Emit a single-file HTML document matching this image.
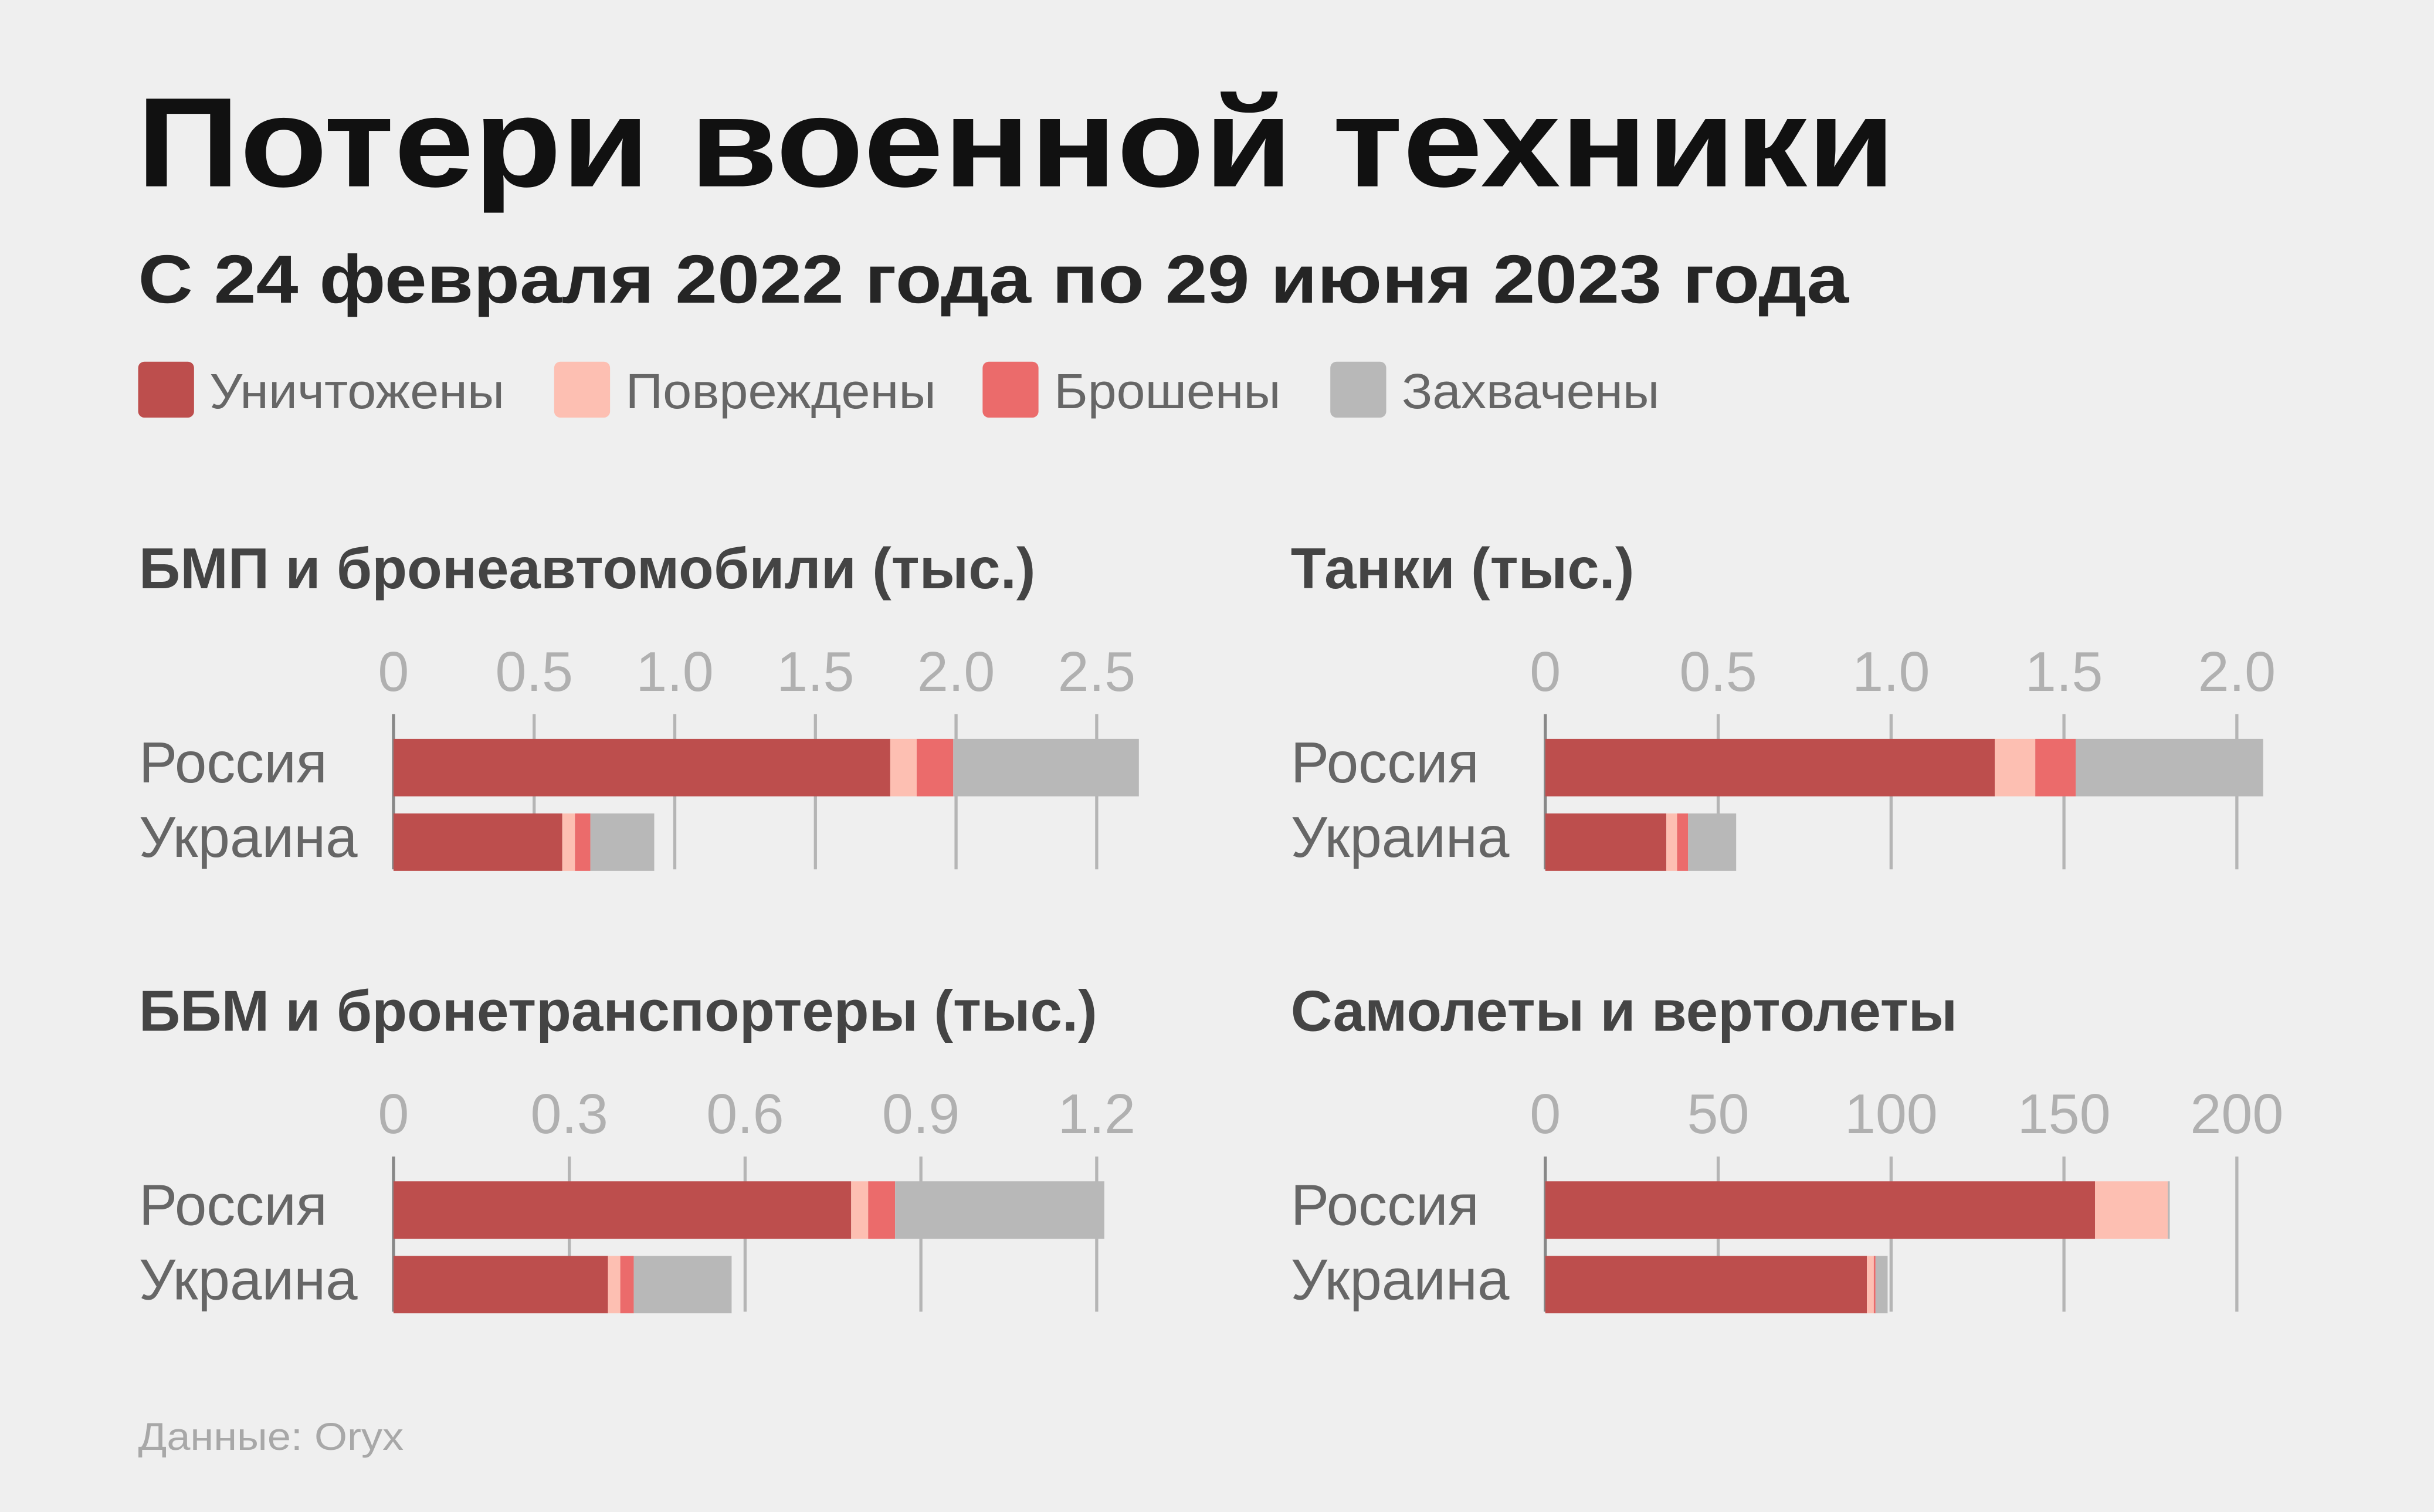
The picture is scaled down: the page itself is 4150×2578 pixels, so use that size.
<!DOCTYPE html>
<html><head><meta charset="utf-8"><style>
html,body{margin:0;padding:0;background:#efefef;}
svg{display:block;font-family:"Liberation Sans","Noto Sans CJK SC",sans-serif;}
</style></head><body>
<svg id="chart" width="4150" height="2578" viewBox="0 0 1568 974" preserveAspectRatio="none" xmlns="http://www.w3.org/2000/svg">
<rect width="1568" height="974" fill="#efefef"/>
<text x="88" y="120" font-size="82" font-weight="bold" fill="#111" textLength="1133" lengthAdjust="spacingAndGlyphs">Потери военной техники</text>
<text x="89" y="195" font-size="44" font-weight="bold" fill="#252525" textLength="1102" lengthAdjust="spacingAndGlyphs">С 24 февраля 2022 года по 29 июня 2023 года</text>
<g>
<rect x="89" y="233" width="36" height="36" rx="4" fill="#bd4e4d"/>
<text x="135" y="263" font-size="32" fill="#666" textLength="190" lengthAdjust="spacingAndGlyphs">Уничтожены</text>
<rect x="357" y="233" width="36" height="36" rx="4" fill="#fdbfb2"/>
<text x="403" y="263" font-size="32" fill="#666" textLength="200" lengthAdjust="spacingAndGlyphs">Повреждены</text>
<rect x="633" y="233" width="36" height="36" rx="4" fill="#eb6b6b"/>
<text x="679" y="263" font-size="32" fill="#666" textLength="146" lengthAdjust="spacingAndGlyphs">Брошены</text>
<rect x="857" y="233" width="36" height="36" rx="4" fill="#b8b8b8"/>
<text x="903" y="263" font-size="32" fill="#666" textLength="166" lengthAdjust="spacingAndGlyphs">Захвачены</text>
</g>
<text x="89" y="934" font-size="25" fill="#a8a8a8" textLength="171" lengthAdjust="spacingAndGlyphs">Данные: Oryx</text>
<g id="panels"></g>
</svg>
<script>
const countries = ["Россия", "Украина"];
const categoriesNames = ["destroyed", "damaged", "abandoned", "captured"];
const colors = ["#bd4e4d", "#fdbfb2", "#eb6b6b", "#b8b8b8"];

const p1Title = "БМП и бронеавтомобили (тыс.)";
const p1Ticks = [0, 0.5, 1.0, 1.5, 2.0, 2.5];
const p1TickLabels = ["0", "0.5", "1.0", "1.5", "2.0", "2.5"];
const p1Russia = [1.766, 0.094, 0.13, 0.66];
const p1Ukraine = [0.60, 0.045, 0.055, 0.227];

const p2Title = "Танки (тыс.)";
const p2Ticks = [0, 0.5, 1.0, 1.5, 2.0];
const p2TickLabels = ["0", "0.5", "1.0", "1.5", "2.0"];
const p2Russia = [1.30, 0.117, 0.117, 0.542];
const p2Ukraine = [0.35, 0.031, 0.032, 0.139];

const p3Title = "ББМ и бронетранспортеры (тыс.)";
const p3Ticks = [0, 0.3, 0.6, 0.9, 1.2];
const p3TickLabels = ["0", "0.3", "0.6", "0.9", "1.2"];
const p3Russia = [0.781, 0.029, 0.046, 0.357];
const p3Ukraine = [0.366, 0.021, 0.023, 0.167];

const p4Title = "Самолеты и вертолеты";
const p4Ticks = [0, 50, 100, 150, 200];
const p4TickLabels = ["0", "50", "100", "150", "200"];
const p4Russia = [159, 21, 0, 0.6];
const p4Ukraine = [93, 2, 0.5, 3.5];

const NS = "http://www.w3.org/2000/svg";
const root = document.getElementById("panels");
function mk(tag, attrs, parent) {
  const e = document.createElementNS(NS, tag);
  for (const k in attrs) e.setAttribute(k, attrs[k]);
  parent.appendChild(e);
  return e;
}
function panel(id, title, ticks, tickLabels, rus, ukr, x0, x1, top) {
  const g = mk("g", {}, root);
  
  
  const tmax = ticks[ticks.length - 1];
  const sx = v => x0 + (x1 - x0) * v / tmax;
  const t = mk("text", {x: x0 - 164, y: top + 11, "font-size": 37, "font-weight": "bold", fill: "#444"}, g);
  
  
  t.textContent = title;
  ticks.forEach((v, i) => {
    const lb = mk("text", {x: sx(v), y: top + 77, "font-size": 36, fill: "#b0b0b0", "text-anchor": "middle"}, g);
    
    
    lb.textContent = tickLabels[i];
    const ln = mk("line", {x1: sx(v), x2: sx(v), y1: top + 92, y2: top + 192, stroke: i === 0 ? "#888" : "#b5b5b5", "stroke-width": 2}, g);
    
    
  });
  [rus, ukr].forEach((vals, r) => {
    const y = top + 108 + r * 48;
    const cl = mk("text", {x: x0 - 164, y: y + 28, "font-size": 37, fill: "#666"}, g);
    
    
    cl.textContent = countries[r];
    let acc = 0;
    vals.forEach((v, k) => {
      if (v <= 0) return;
      const b = mk("rect", {x: sx(acc), y: y, width: sx(acc + v) - sx(acc), height: 37, fill: colors[k]}, g);
      
      
      acc += v;
    });
  });
}
panel("panel-ifv", p1Title, p1Ticks, p1TickLabels, p1Russia, p1Ukraine, 253.5, 706.5, 368);
panel("panel-tanks", p2Title, p2Ticks, p2TickLabels, p2Russia, p2Ukraine, 995.5, 1441, 368);
panel("panel-apc", p3Title, p3Ticks, p3TickLabels, p3Russia, p3Ukraine, 253.5, 706.5, 653);
panel("panel-aircraft", p4Title, p4Ticks, p4TickLabels, p4Russia, p4Ukraine, 995.5, 1441, 653);
</script>
</body></html>
